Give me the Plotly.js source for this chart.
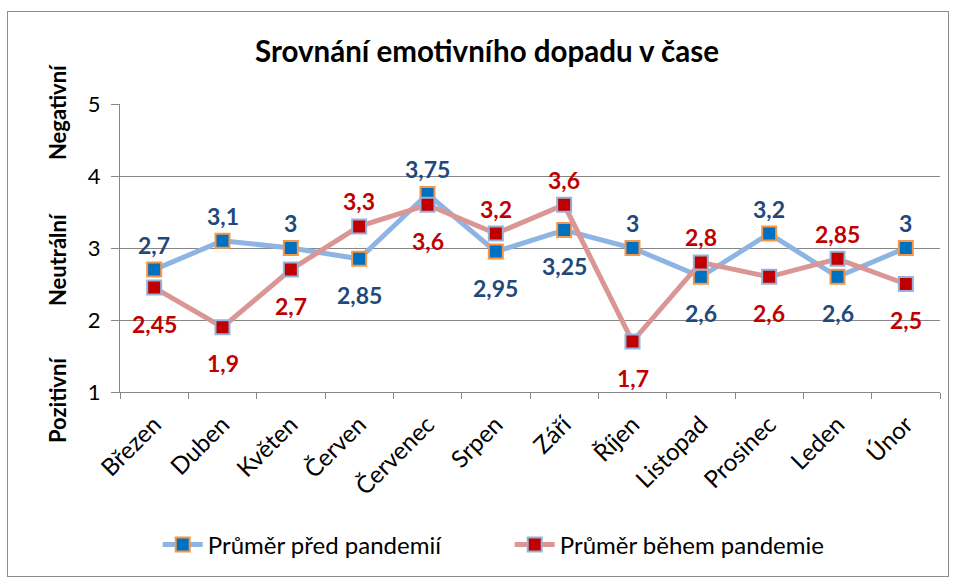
<!DOCTYPE html>
<html><head><meta charset="utf-8">
<script src="https://cdn.plot.ly/plotly-3.0.1.min.js"></script>
<style>
body{margin:0;background:#fff}
#chart{position:absolute;left:7px;top:11px;width:940px;height:564px;border:1px solid #8c8c8c}
</style>
</head><body><div id="chart"></div>
<script>
// ---- data ----
const months = ['Březen','Duben','Květen','Červen','Červenec','Srpen','Září','Říjen','Listopad','Prosinec','Leden','Únor'];
const beforePandemic = [2.7, 3.1, 3, 2.85, 3.75, 2.95, 3.25, 3, 2.6, 3.2, 2.6, 3];
const duringPandemic = [2.45, 1.9, 2.7, 3.3, 3.6, 3.2, 3.6, 1.7, 2.8, 2.6, 2.85, 2.5];
const seriesNames = ['Průměr před pandemií', 'Průměr během pandemie'];
const yTickVals = [1, 2, 3, 4, 5];
const sentimentLabels = ['Pozitivní', 'Neutrální', 'Negativní'];
// label placement (above / below the point)
const sideBefore = ['up','up','up','down','up','down','down','up','down','up','down','up'];
const sideDuring = ['down','down','down','up','down','up','up','down','up','down','up','down'];

// ---- layout helpers ----
const sentimentPaperY = [-0.028, 0.458, 0.972];
const FONT = 'Lato, "Open Sans", sans-serif';
const fmt = v => String(v).replace('.', ',');

const traces = [
  {
    x: months, y: beforePandemic, name: seriesNames[0], type: 'scatter', mode: 'lines+markers',
    line: {color: '#8EB4E3', width: 5},
    marker: {symbol: 'square', size: 14, color: '#0070C0', line: {color: '#F79646', width: 2}}
  },
  {
    x: months, y: duringPandemic, name: seriesNames[1], type: 'scatter', mode: 'lines+markers',
    line: {color: '#D99694', width: 5},
    marker: {symbol: 'square', size: 14, color: '#C00000', line: {color: '#95B3D7', width: 2}}
  }
];

const annotations = [];
function addLabels(vals, sides, color) {
  vals.forEach((v, i) => {
    annotations.push({
      x: months[i], y: v, xref: 'x', yref: 'y', text: fmt(v), showarrow: false,
      yshift: sides[i] === 'up' ? 25 : -36,
      font: {family: FONT, size: 23, color: color, weight: 'bold'}
    });
  });
}
addLabels(beforePandemic, sideBefore, '#1F497D');
addLabels(duringPandemic, sideDuring, '#C00000');
sentimentLabels.forEach((t, i) => {
  annotations.push({
    x: -0.0768, xref: 'paper', xanchor: 'center', y: sentimentPaperY[i], yref: 'paper', yanchor: 'middle',
    text: '<b>' + t + '</b>', textangle: -90, showarrow: false,
    font: {family: FONT, size: 22, color: '#000'}
  });
});

const layout = {
  width: 940, height: 564,
  margin: {l: 112, r: 8, t: 92, b: 184},
  paper_bgcolor: '#fff', plot_bgcolor: '#fff',
  font: {family: FONT, color: '#000'},
  title: {text: '<b>Srovnání emotivního dopadu v čase</b>', x: 0.5096, xref: 'container', xanchor: 'center',
          y: 0.929, yref: 'container', yanchor: 'middle', font: {family: FONT, size: 29.5, color: '#000'}},
  showlegend: true,
  legend: {orientation: 'h', x: 0.046, xref: 'paper', xanchor: 'left', y: -0.531, yanchor: 'middle',
           entrywidth: 297, entrywidthmode: 'pixels',
           font: {family: FONT, size: 24, color: '#000'}, itemwidth: 40},
  xaxis: {
    type: 'category', range: [-0.5, 11.5], tickson: 'boundaries', ticks: 'outside', ticklen: 6,
    tickcolor: '#868686', showline: true, linecolor: '#868686', linewidth: 1, showgrid: false,
    tickangle: -45, ticklabelstandoff: 8, tickfont: {family: FONT, size: 24, color: '#000'}, fixedrange: true
  },
  yaxis: {
    range: [1, 5], tickvals: yTickVals, ticks: 'outside', ticklen: 8, tickcolor: '#868686',
    showline: true, linecolor: '#868686', linewidth: 1, gridcolor: '#868686', gridwidth: 1,
    ticklabelstandoff: 6,
    zeroline: false, tickfont: {family: FONT, size: 22, color: '#000'}, fixedrange: true
  },
  annotations: annotations
};

Plotly.newPlot('chart', traces, layout, {displayModeBar: false, staticPlot: true});
</script>
</body></html>
